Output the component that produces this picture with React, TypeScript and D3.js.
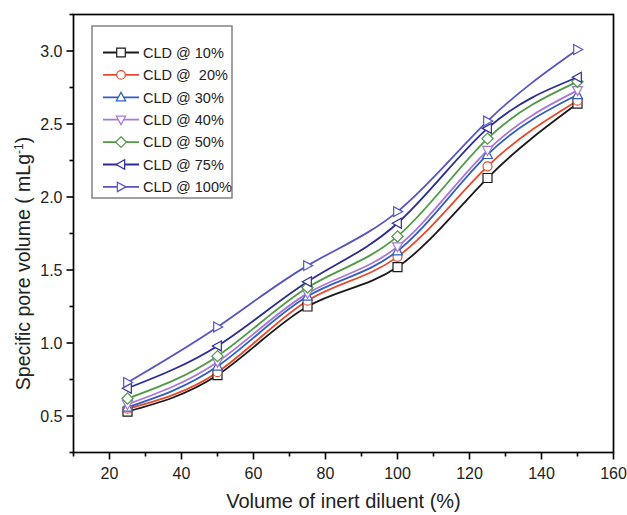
import React from "react";
import * as d3 from "d3";

const X_VALUES = [25, 50, 75, 100, 125, 150];
const SERIES_NAMES = ["CLD @ 10%", "CLD @  20%", "CLD @ 30%", "CLD @ 40%", "CLD @ 50%", "CLD @ 75%", "CLD @ 100%"];
const CLD10 = [0.53, 0.78, 1.25, 1.52, 2.13, 2.64];
const CLD20 = [0.55, 0.8, 1.29, 1.59, 2.21, 2.66];
const CLD30 = [0.56, 0.84, 1.32, 1.63, 2.29, 2.7];
const CLD40 = [0.58, 0.87, 1.34, 1.66, 2.32, 2.73];
const CLD50 = [0.62, 0.91, 1.38, 1.73, 2.4, 2.79];
const CLD75 = [0.69, 0.98, 1.42, 1.82, 2.47, 2.82];
const CLD100 = [0.73, 1.11, 1.53, 1.9, 2.52, 3.01];
const SERIES_VALUES = [CLD10, CLD20, CLD30, CLD40, CLD50, CLD75, CLD100];
const COLORS = ["#1a1a1a", "#e8492e", "#2f5fc0", "#a878d8", "#4f9a45", "#2c2c94", "#5656c0"];
const MARKERS = ["square", "circle", "up", "down", "diamond", "left", "right"];
const X_TICKS = [20, 40, 60, 80, 100, 120, 140, 160];
const X_MINOR = [10, 30, 50, 70, 90, 110, 130, 150];
const Y_TICKS = [0.5, 1.0, 1.5, 2.0, 2.5, 3.0];
const Y_MINOR = [0.25, 0.75, 1.25, 1.75, 2.25, 2.75, 3.25];

const FONT = "'Liberation Sans', Arial, Helvetica, sans-serif";

function markerPath(type: string, r: number): string {
  switch (type) {
    case "square":
      return `M${-r},${-r}H${r}V${r}H${-r}Z`;
    case "circle":
      return `M${-r},0A${r},${r} 0 1,0 ${r},0A${r},${r} 0 1,0 ${-r},0Z`;
    case "up":
      return `M0,${-r * 1.15}L${r * 1.1},${r * 0.85}L${-r * 1.1},${r * 0.85}Z`;
    case "down":
      return `M0,${r * 1.15}L${r * 1.1},${-r * 0.85}L${-r * 1.1},${-r * 0.85}Z`;
    case "diamond":
      return `M0,${-r * 1.25}L${r * 1.25},0L0,${r * 1.25}L${-r * 1.25},0Z`;
    case "left":
      return `M${-r * 1.15},0L${r * 0.85},${-r * 1.1}L${r * 0.85},${r * 1.1}Z`;
    case "right":
      return `M${r * 1.15},0L${-r * 0.85},${-r * 1.1}L${-r * 0.85},${r * 1.1}Z`;
  }
  return "";
}

export default function App() {
  const W = 627;
  const H = 515;
  const left = 73.5, right = 613.5, top = 14.5, bottom = 452.5;
  const x = d3.scaleLinear().domain([10, 160]).range([left, right]);
  const y = d3.scaleLinear().domain([0.25, 3.25]).range([bottom, top]);
  const line = d3
    .line<number>()
    .x((_, i) => x(X_VALUES[i]))
    .y((d) => y(d))
    .curve(d3.curveNatural);

  const legX = 92, legY = 26, legW = 140, legH = 172;
  const rowY0 = 52.5, rowStep = 22.4;

  return (
    <svg width={W} height={H} style={{ position: "absolute", left: 0, top: 0, background: "#fff" }} fontFamily={FONT}>
      <rect x={0} y={0} width={W} height={H} fill="#fff" />
      {/* series lines */}
      {SERIES_VALUES.map((vals, si) => (
        <path key={"l" + si} d={line(vals) || ""} fill="none" stroke={COLORS[si]} strokeWidth={1.8} />
      ))}
      {/* markers */}
      {SERIES_VALUES.map((vals, si) => (
        <g key={"m" + si}>
          {vals.map((v, i) => (
            <path
              key={i}
              d={markerPath(MARKERS[si], 4.5)}
              transform={`translate(${x(X_VALUES[i])},${y(v)})`}
              fill="#fff"
              stroke={COLORS[si]}
              strokeWidth={1.2}
            />
          ))}
        </g>
      ))}
      {/* frame */}
      <rect x={left} y={top} width={right - left} height={bottom - top} fill="none" stroke="#000" strokeWidth={1.7} />
      {/* x ticks */}
      {X_TICKS.map((t) => (
        <g key={"xt" + t}>
          <line x1={x(t)} x2={x(t)} y1={bottom} y2={bottom + 7} stroke="#000" strokeWidth={1.6} />
          <text x={x(t)} y={bottom + 26} textAnchor="middle" fontSize={16} fill="#222">
            {t}
          </text>
        </g>
      ))}
      {X_MINOR.map((t) => (
        <line key={"xm" + t} x1={x(t)} x2={x(t)} y1={bottom} y2={bottom + 4} stroke="#000" strokeWidth={1.6} />
      ))}
      {/* y ticks */}
      {Y_TICKS.map((t) => (
        <g key={"yt" + t}>
          <line x1={left - 7} x2={left} y1={y(t)} y2={y(t)} stroke="#000" strokeWidth={1.6} />
          <text x={left - 11} y={y(t) + 5.7} textAnchor="end" fontSize={16} fill="#222">
            {t.toFixed(1)}
          </text>
        </g>
      ))}
      {Y_MINOR.map((t) => (
        <line key={"ym" + t} x1={left - 4} x2={left} y1={y(t)} y2={y(t)} stroke="#000" strokeWidth={1.6} />
      ))}
      {/* axis titles */}
      <text x={(left + right) / 2} y={508} textAnchor="middle" fontSize={20} fill="#222">
        Volume of inert diluent (%)
      </text>
      <text
        transform={`translate(30,${(top + bottom) / 2 + 30}) rotate(-90)`}
        textAnchor="middle"
        fontSize={19.5}
        fill="#222"
        style={{ whiteSpace: "pre" }}
      >
        <tspan>Specific pore volume ( mLg</tspan>
        <tspan fontSize={12} dy={-7.5}>-1</tspan>
        <tspan dy={7.5}>)</tspan>
      </text>
      {/* legend */}
      <rect x={legX} y={legY} width={legW} height={legH} fill="#fff" stroke="#8a8a8a" strokeWidth={1.6} />
      {SERIES_NAMES.map((name, si) => {
        const ry = rowY0 + si * rowStep;
        return (
          <g key={"lg" + si}>
            <line x1={103} x2={139} y1={ry} y2={ry} stroke={COLORS[si]} strokeWidth={1.8} />
            <path d={markerPath(MARKERS[si], 4.3)} transform={`translate(121,${ry})`} fill="#fff" stroke={COLORS[si]} strokeWidth={1.2} />
            <text x={143} y={ry + 5.2} fontSize={14.5} fill="#222" style={{ whiteSpace: "pre" }}>
              {name}
            </text>
          </g>
        );
      })}
    </svg>
  );
}
